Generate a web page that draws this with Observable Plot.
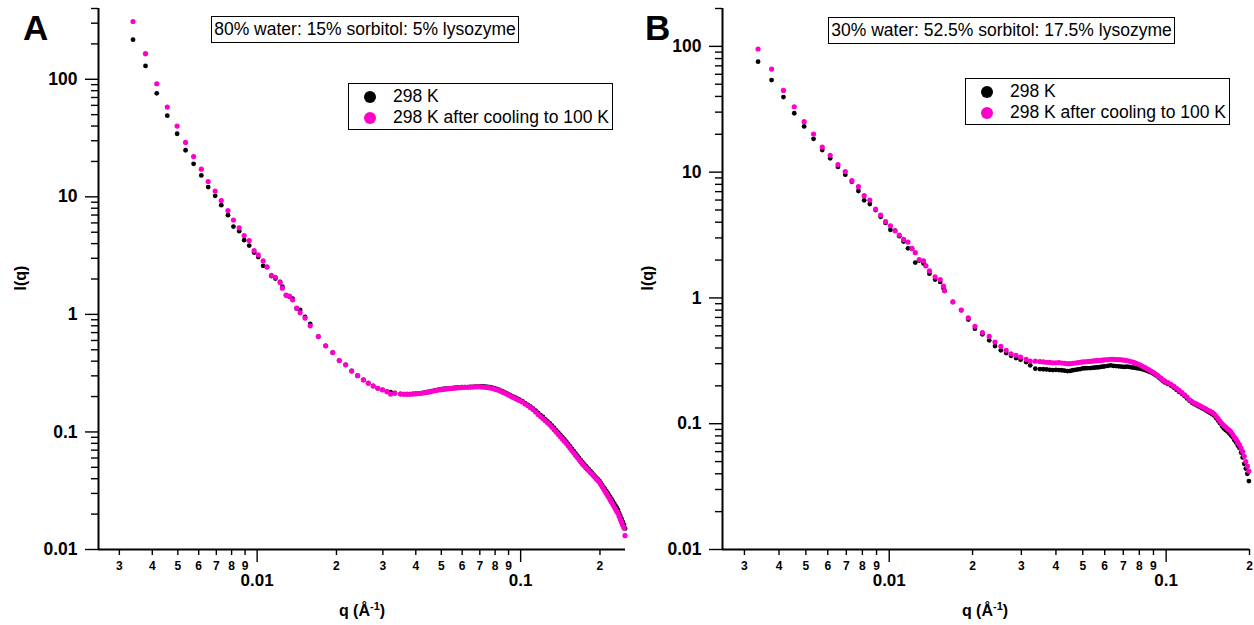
<!DOCTYPE html>
<html><head><meta charset="utf-8">
<script src="https://cdn.jsdelivr.net/npm/d3@7"></script>
<script src="https://cdn.jsdelivr.net/npm/@observablehq/plot@0.6"></script>
<style>
body{margin:0;background:#fff;font-family:"Liberation Sans",Arial,sans-serif;color:#000;}
#wrap{position:relative;width:1254px;height:625px;overflow:hidden;background:#fff;}
.panel{position:absolute;top:0;}
.plabel{position:absolute;font-weight:bold;font-size:35px;line-height:1;}
.tbox{position:absolute;border:1px solid #000;font-size:17.5px;text-align:center;box-sizing:border-box;white-space:nowrap;background:#fff;}
.leg{position:absolute;border:1px solid #000;box-sizing:border-box;background:#fff;}
.leg .m{position:absolute;width:12px;height:12px;border-radius:50%;transform:translate(-50%,-50%);}
.leg .t{position:absolute;font-size:17.5px;white-space:nowrap;transform:translateY(-50%);line-height:1;}
.ytitle{position:absolute;font-weight:bold;font-size:16px;transform:translate(-50%,-50%) rotate(-90deg);white-space:nowrap;}
.xtitle{position:absolute;font-weight:bold;font-size:16px;transform:translateX(-50%);white-space:nowrap;}
.xtitle sup{font-size:11px;}
</style>
</head><body>
<div id="wrap"></div>
<script>
// ---------------- Data: panel A (80% water : 15% sorbitol : 5% lysozyme) ----------------
const qA = [
0.00338,0.00377,0.00416,0.00456,0.00497,0.00535,0.00574,0.00614,0.00652,0.00693,
0.00731,0.00775,0.00813,0.00855,0.00893,0.00933,0.00974,0.0101,0.01054,0.0109,
0.01133,0.01173,0.01222,0.01247,0.01288,0.01325,0.01364,0.01413,0.01456,0.0152,
0.0159,0.01707,0.0182,0.01936,0.0205,0.02168,0.02285,0.02406,0.0253,0.02642,
0.02757,0.02871,0.0299,0.0311,0.0321,0.0333,
0.035,0.036,0.037,0.038,0.039,0.040,0.041,0.042,0.043,0.044,0.045,0.046,0.047,
0.048,0.049,0.050,0.051,0.052,0.053,0.054,0.055,0.056,0.057,0.058,0.059,0.060,
0.0615,0.063,0.0645,0.066,0.0675,0.069,0.0705,0.072,0.0735,0.075,0.0765,0.078,0.0795,
0.081,0.0825,0.084,0.0855,0.087,0.0885,0.090,0.0915,0.093,0.0945,0.096,0.0975,0.099,
0.1015,0.104,0.1065,0.109,0.1115,0.114,0.1165,0.119,0.1215,0.124,
0.1265,0.129,0.1315,0.134,0.1365,0.139,0.1415,0.144,0.1465,0.149,
0.1515,0.154,0.1565,0.159,0.1615,0.164,0.1665,0.169,0.1715,0.174,
0.1765,0.179,0.1815,0.184,0.1865,0.189,0.1915,0.194,0.1965,0.199,
0.2015,0.204,0.2065,0.209,0.2115,0.214,0.2165,0.219,0.2215,0.224,
0.2265,0.229,0.2315,0.234,0.2365,0.239,0.2415,0.244,0.2465,0.249];
const iA298 = [
217,130,76,49,34.4,24.9,19.1,15.2,12.1,10.2,
8.5,6.98,5.59,5.1,4.28,3.85,3.36,3.07,2.59,2.52,
2.12,2.02,1.89,1.72,1.45,1.42,1.36,1.12,1.09,0.95,
0.83,0.647,0.54,0.473,0.405,0.372,0.33,0.301,0.277,0.26,
0.246,0.235,0.228,0.22,0.218,0.215,
0.211,0.210,0.209,0.210,0.211,0.212,0.212,0.214,0.216,0.218,0.220,0.222,0.225,
0.227,0.229,0.231,0.232,0.233,0.234,0.235,0.236,0.237,0.238,0.239,0.239,0.240,
0.241,0.241,0.242,0.242,0.243,0.243,0.244,0.244,0.243,0.242,0.240,0.238,0.235,
0.232,0.229,0.225,0.221,0.217,0.213,0.209,0.205,0.201,0.198,0.195,0.191,0.188,
0.183,0.176,0.170,0.164,0.158,0.152,0.145,0.139,0.134,0.128,
0.123,0.118,0.113,0.108,0.103,0.0986,0.0943,0.0903,0.0863,0.0828,
0.0789,0.0753,0.0719,0.0687,0.0657,0.0629,0.0602,0.0576,0.0554,0.0533,
0.0514,0.0496,0.0480,0.0463,0.0449,0.0433,0.0419,0.0406,0.0394,0.0383,
0.0367,0.0352,0.0338,0.0326,0.0314,0.0301,0.0289,0.0277,0.0267,0.0255,
0.0246,0.0235,0.0227,0.0217,0.0204,0.0193,0.0182,0.0172,0.0163,0.0151];
const iAcool = [
310,165,91.6,58,40,29,22,17.2,13.5,11.2,
9.3,7.64,6.34,5.45,4.69,4.25,3.49,3.21,2.85,2.54,
2.15,2.07,1.87,1.67,1.46,1.43,1.33,1.13,1.035,0.93,
0.80,0.647,0.54,0.473,0.405,0.372,0.33,0.301,0.277,0.26,
0.246,0.235,0.228,0.22,0.21,0.213,
0.210,0.209,0.210,0.209,0.210,0.211,0.212,0.213,0.215,0.217,0.219,0.222,0.224,
0.226,0.228,0.229,0.231,0.232,0.233,0.234,0.235,0.236,0.237,0.238,0.238,0.239,
0.240,0.240,0.241,0.241,0.242,0.242,0.242,0.241,0.240,0.239,0.237,0.235,0.232,
0.229,0.226,0.222,0.218,0.214,0.210,0.206,0.202,0.198,0.195,0.192,0.188,0.185,
0.180,0.173,0.167,0.161,0.155,0.148,0.141,0.135,0.130,0.1245,
0.1196,0.115,0.1096,0.1045,0.0997,0.0953,0.0911,0.0872,0.0834,0.080,
0.0762,0.0728,0.0695,0.0664,0.0635,0.0608,0.0582,0.0557,0.0535,0.0516,
0.0499,0.0482,0.0467,0.0452,0.0438,0.0424,0.0411,0.0398,0.0386,0.0375,
0.0358,0.0342,0.0327,0.0313,0.0300,0.0287,0.0275,0.0263,0.0252,0.0241,
0.0231,0.0221,0.0212,0.0203,0.0191,0.0180,0.0170,0.0161,0.0152,0.0131];

// ---------------- Data: panel B (30% water : 52.5% sorbitol : 17.5% lysozyme) ----------------
const qB = [
0.00336,0.00376,0.00415,0.00454,0.00493,0.00533,0.00573,0.00612,0.00653,0.00694,
0.00733,0.00774,0.00812,0.00851,0.00893,0.00931,0.0097,0.0101,0.0105,0.01087,
0.01127,0.01169,0.01208,0.01242,0.01284,0.0133,0.01356,0.01397,0.01465,0.01528,
0.0157,0.01585,0.01698,0.0182,0.0193,0.0204,0.0217,0.02297,0.0241,0.0253,
0.02644,0.02754,0.0287,0.0298,0.0312,0.0323,0.0337,
0.035,0.036,0.037,0.038,0.039,0.040,0.041,0.042,0.043,0.044,0.045,0.046,0.047,
0.048,0.049,0.050,0.051,0.052,0.053,0.054,0.055,0.056,0.057,0.058,0.059,0.060,
0.0615,0.063,0.0645,0.066,0.0675,0.069,0.0705,0.072,0.0735,0.075,0.0765,0.078,0.0795,
0.081,0.0825,0.084,0.0855,0.087,0.0885,0.090,0.0915,0.093,0.0945,0.096,0.0975,0.099,
0.1015,0.104,0.1065,0.109,0.1115,0.114,0.1165,0.119,0.1215,0.124,
0.1265,0.129,0.1315,0.134,0.1365,0.139,0.1415,0.144,0.1465,0.149,
0.1515,0.154,0.1565,0.159,0.1615,0.164,0.1665,0.169,0.1715,0.174,
0.1765,0.179,0.1815,0.184,0.1865,0.189,0.1915,0.194,0.1965,0.199];
const iB298 = [
75.5,54,39.5,29.4,23.1,18.4,15.0,12.9,11.0,9.55,
8.4,7.08,5.97,5.58,5.0,4.41,3.95,3.48,3.42,3.1,
2.81,2.48,2.46,1.91,1.98,1.88,1.80,1.56,1.40,1.34,
1.20,1.14,0.93,0.80,0.674,0.570,0.514,0.46,0.414,0.383,
0.365,0.347,0.333,0.323,0.309,0.291,0.274,
0.272,0.271,0.270,0.268,0.267,0.268,0.267,0.266,0.264,0.262,0.263,0.266,0.268,
0.270,0.272,0.275,0.276,0.277,0.277,0.278,0.279,0.280,0.281,0.283,0.284,0.286,
0.288,0.291,0.288,0.287,0.286,0.284,0.283,0.284,0.283,0.281,0.279,0.277,0.275,
0.273,0.270,0.267,0.263,0.259,0.255,0.250,0.244,0.238,0.231,0.225,0.218,0.213,
0.207,0.201,0.194,0.186,0.179,0.173,0.166,0.159,0.152,0.147,
0.143,0.140,0.137,0.134,0.131,0.128,0.125,0.122,0.119,0.116,
0.111,0.106,0.101,0.096,0.092,0.089,0.087,0.084,0.081,0.078,
0.074,0.071,0.067,0.064,0.059,0.054,0.048,0.044,0.040,0.035];
const iBcool = [
95.3,66,44.6,33.1,25.2,20.1,15.8,13.6,11.5,10.1,
8.55,7.66,6.50,6.0,5.09,4.56,4.04,3.75,3.42,3.16,
2.92,2.78,2.48,2.29,2.02,1.97,1.80,1.64,1.47,1.40,
1.24,1.14,0.93,0.80,0.693,0.595,0.530,0.495,0.446,0.412,
0.383,0.36,0.35,0.339,0.325,0.315,0.314,
0.312,0.310,0.308,0.307,0.305,0.305,0.306,0.304,0.302,0.300,0.300,0.302,0.304,
0.306,0.308,0.310,0.311,0.312,0.313,0.314,0.316,0.317,0.317,0.319,0.320,0.322,
0.323,0.325,0.325,0.324,0.323,0.322,0.320,0.318,0.315,0.311,0.307,0.302,0.297,
0.291,0.285,0.279,0.273,0.267,0.261,0.255,0.248,0.242,0.235,0.229,0.222,0.218,
0.212,0.206,0.199,0.191,0.184,0.177,0.170,0.163,0.155,0.150,
0.146,0.143,0.140,0.137,0.134,0.131,0.128,0.126,0.123,0.120,
0.115,0.110,0.105,0.100,0.097,0.094,0.091,0.089,0.086,0.082,
0.078,0.075,0.071,0.068,0.064,0.060,0.055,0.050,0.046,0.042];

// ---------------- Ticks & labels ----------------
const yMajor = [0.01, 0.1, 1, 10, 100];
const yMinorA = [0.02,0.03,0.04,0.05,0.06,0.07,0.08,0.09, 0.2,0.3,0.4,0.5,0.6,0.7,0.8,0.9,
  2,3,4,5,6,7,8,9, 20,30,40,50,60,70,80,90, 200,300,400];
const yMinorB = [0.02,0.03,0.04,0.05,0.06,0.07,0.08,0.09, 0.2,0.3,0.4,0.5,0.6,0.7,0.8,0.9,
  2,3,4,5,6,7,8,9, 20,30,40,50,60,70,80,90, 200];
const xMajor = [0.01, 0.1];
const xMinor = [0.003,0.004,0.005,0.006,0.007,0.008,0.009,
  0.02,0.03,0.04,0.05,0.06,0.07,0.08,0.09, 0.2];
const xMinorLabels = ["3","4","5","6","7","8","9", "2","3","4","5","6","7","8","9", "2"];
const seriesNames = ["298 K", "298 K after cooling to 100 K"];
const seriesColors = ["#000000", "#ff00cc"];
const titles = ["80% water: 15% sorbitol: 5% lysozyme", "30% water: 52.5% sorbitol: 17.5% lysozyme"];
const panelLetters = ["A", "B"];

const blank = () => "";

function panel({q, i298, icool, xDomain, yDomain, yMinor, width, marginLeft}) {
  const black = q.map((d, k) => ({q: d, I: i298[k]}));
  const pink = q.map((d, k) => ({q: d, I: icool[k]}));
  const minorLab = xMinor.map((d, k) => ({q: d, t: xMinorLabels[k]}));
  return Plot.plot({
    width, height: 625, marginLeft, marginRight: 5, marginTop: 8, marginBottom: 76,
    style: {fontFamily: "Liberation Sans, Arial, sans-serif", background: "white", overflow: "visible", color: "#000"},
    x: {type: "log", domain: xDomain},
    y: {type: "log", domain: yDomain},
    marks: [
      Plot.axisY(yMinor, {tickSize: 7, tickFormat: blank, strokeWidth: 1.4, label: null}),
      Plot.axisY(yMajor, {tickSize: 13, tickFormat: blank, strokeWidth: 1.4, label: null}),
      Plot.axisX(xMinor, {tickSize: 6, tickFormat: blank, strokeWidth: 1.4, label: null}),
      Plot.axisX(xMajor, {tickSize: 13, tickFormat: blank, strokeWidth: 1.4, label: null}),
      Plot.text(yMajor, {y: d => d, text: d => String(d), frameAnchor: "left", textAnchor: "end", dx: -21,
        fontSize: 17.5, fontWeight: "bold"}),
      Plot.text(minorLab, {x: "q", text: "t", frameAnchor: "bottom", lineAnchor: "top", dy: 12,
        fontSize: 12, fontWeight: "bold"}),
      Plot.text(xMajor, {x: d => d, text: d => String(d), frameAnchor: "bottom", lineAnchor: "top", dy: 24,
        fontSize: 17, fontWeight: "bold"}),
      Plot.ruleX([xDomain[0]], {strokeWidth: 2}),
      Plot.ruleY([yDomain[0]], {strokeWidth: 2}),
      Plot.dot(black, {x: "q", y: "I", r: 2.4, fill: seriesColors[0]}),
      Plot.dot(pink, {x: "q", y: "I", r: 2.6, fill: seriesColors[1]})
    ]
  });
}

const wrap = document.getElementById("wrap");
const layout = [
  {left: 0, width: 630, marginLeft: 98, q: qA, i298: iA298, icool: iAcool, xDomain: [0.0025, 0.25], yDomain: [0.01, 400], yMinor: yMinorA,
   letter: [23, 17], title: [211, 16, 308, 27], legend: [348, 83, 265, 47], ytitle: [21, 278], xtitle: [362, 600]},
  {left: 630, width: 624, marginLeft: 92, q: qB, i298: iB298, icool: iBcool, xDomain: [0.0025, 0.2], yDomain: [0.01, 200], yMinor: yMinorB,
   letter: [645, 17], title: [828, 17, 347, 27], legend: [965, 78, 265, 47], ytitle: [648, 278], xtitle: [985, 600]}
];

layout.forEach((L, idx) => {
  const svg = panel(L);
  const holder = document.createElement("div");
  holder.className = "panel";
  holder.style.left = L.left + "px";
  holder.appendChild(svg);
  wrap.appendChild(holder);

  const letter = document.createElement("div");
  letter.className = "plabel";
  letter.textContent = panelLetters[idx];
  letter.style.left = L.letter[0] + "px";
  letter.style.top = (L.letter[1] - 7) + "px";
  wrap.appendChild(letter);

  const tb = document.createElement("div");
  tb.className = "tbox";
  tb.textContent = titles[idx];
  Object.assign(tb.style, {left: L.title[0] + "px", top: L.title[1] + "px", width: L.title[2] + "px", height: L.title[3] + "px", lineHeight: (L.title[3] - 2) + "px"});
  wrap.appendChild(tb);

  const lg = document.createElement("div");
  lg.className = "leg";
  Object.assign(lg.style, {left: L.legend[0] + "px", top: L.legend[1] + "px", width: L.legend[2] + "px", height: L.legend[3] + "px"});
  seriesNames.forEach((name, k) => {
    const yc = 13 + k * 21;
    const m = document.createElement("div");
    m.className = "m";
    Object.assign(m.style, {left: "21px", top: yc + "px", background: seriesColors[k]});
    const t = document.createElement("div");
    t.className = "t";
    t.textContent = name;
    Object.assign(t.style, {left: "44px", top: yc + "px"});
    lg.appendChild(m); lg.appendChild(t);
  });
  wrap.appendChild(lg);

  const yt = document.createElement("div");
  yt.className = "ytitle";
  yt.textContent = "I(q)";
  Object.assign(yt.style, {left: L.ytitle[0] + "px", top: L.ytitle[1] + "px"});
  wrap.appendChild(yt);

  const xt = document.createElement("div");
  xt.className = "xtitle";
  xt.innerHTML = "q (Å<sup>-1</sup>)";
  Object.assign(xt.style, {left: L.xtitle[0] + "px", top: L.xtitle[1] + "px"});
  wrap.appendChild(xt);
});
</script>
</body></html>
